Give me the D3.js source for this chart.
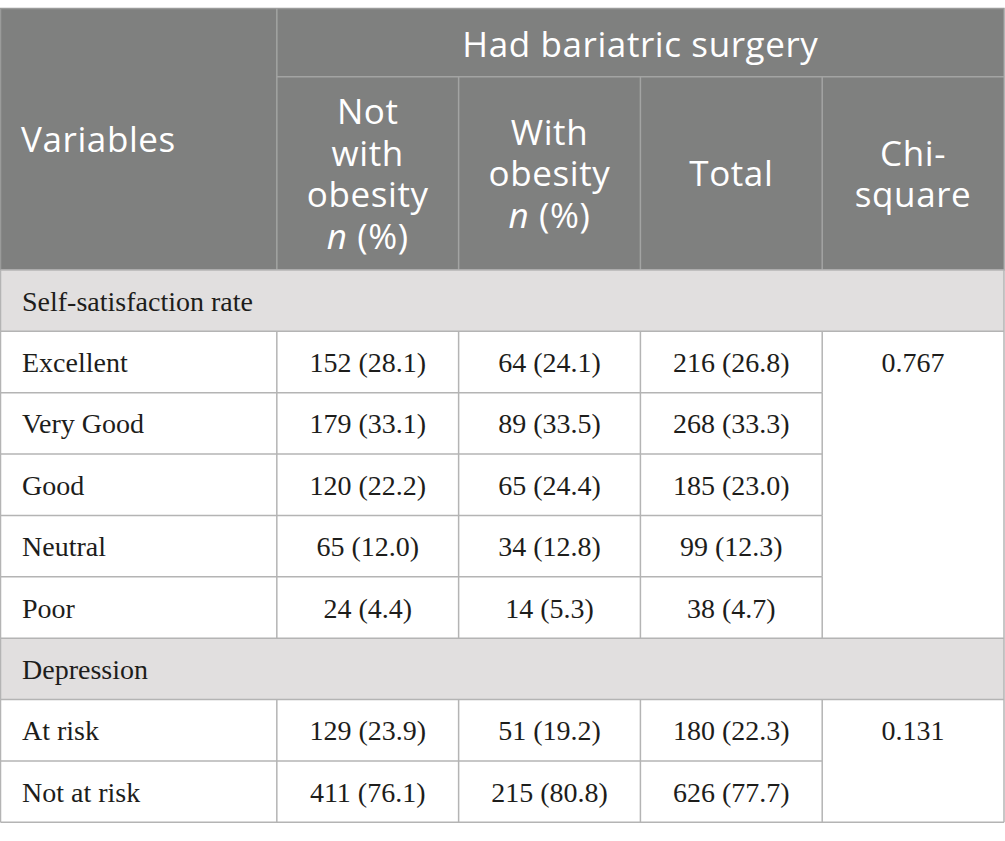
<!DOCTYPE html>
<html lang="en">
<head>
  <meta charset="UTF-8">
  <title>Had bariatric surgery table</title>
  <script src="https://d3js.org/d3.v7.min.js"></script>
  <style>
    body {
      margin: 0;
      padding: 0;
      background: white;
    }
    .head text {
      font-family: "Open Sans", sans-serif;
      font-size: 35px;
      letter-spacing: 0.6px;
      fill: white;
    }
    .body text {
      font-family: "Liberation Serif", "Times New Roman", serif;
      font-size: 28px;
      fill: #1d1d1b;
    }
  </style>
</head>
<body>
  <script>
    // Table data
    const groupTitle = "Had bariatric surgery";
    const firstHeader = "Variables";
    const columnHeaders = [
      ["Not", "with", "obesity", "n (%)"],
      ["With", "obesity", "n (%)"],
      ["Total"],
      ["Chi-", "square"]
    ];

    const satTitle = "Self-satisfaction rate";
    const satLevels = ["Excellent", "Very Good", "Good", "Neutral", "Poor"];
    const satNotObeseN = [152, 179, 120, 65, 24];
    const satNotObesePct = [28.1, 33.1, 22.2, 12.0, 4.4];
    const satWithObeseN = [64, 89, 65, 34, 14];
    const satWithObesePct = [24.1, 33.5, 24.4, 12.8, 5.3];
    const satTotalN = [216, 268, 185, 99, 38];
    const satTotalPct = [26.8, 33.3, 23.0, 12.3, 4.7];
    const satChi = 0.767;

    const depTitle = "Depression";
    const depLevels = ["At risk", "Not at risk"];
    const depNotObeseN = [129, 411];
    const depNotObesePct = [23.9, 76.1];
    const depWithObeseN = [51, 215];
    const depWithObesePct = [19.2, 80.8];
    const depTotalN = [180, 626];
    const depTotalPct = [22.3, 77.7];
    const depChi = 0.131;

    const width = 1005;
    const height = 841;

    const pct = d3.format(".1f");
    const cell = (n, p) => `${n} (${pct(p)})`;

    // Build body rows: section rows and data rows
    const sections = [
      { title: satTitle, levels: satLevels, a: [satNotObeseN, satNotObesePct], b: [satWithObeseN, satWithObesePct], t: [satTotalN, satTotalPct], chi: satChi },
      { title: depTitle, levels: depLevels, a: [depNotObeseN, depNotObesePct], b: [depWithObeseN, depWithObesePct], t: [depTotalN, depTotalPct], chi: depChi }
    ];
    const rows = [];
    sections.forEach(s => {
      rows.push({ type: "section", label: s.title });
      s.levels.forEach((lv, i) => {
        rows.push({
          type: "data", label: lv, first: i === 0,
          values: [cell(s.a[0][i], s.a[1][i]), cell(s.b[0][i], s.b[1][i]), cell(s.t[0][i], s.t[1][i])],
          chi: i === 0 ? s.chi.toFixed(3) : null
        });
      });
    });

    // Column scale (first column is wider)
    const colUnits = [1.52, 1, 1, 1, 1];
    const colEdges = d3.cumsum([0, ...colUnits]);
    const x = d3.scaleLinear().domain([0, colEdges[colEdges.length - 1]]).range([0.5, 1004]);
    const colX = i => x(colEdges[i]);
    const colMid = i => (colX(i) + colX(i + 1)) / 2;

    const tableTop = 8.5, headSplit = 76.7, headBottom = 270;
    const tableBottom = 822.3;
    const y = d3.scaleBand().domain(d3.range(rows.length)).range([headBottom, tableBottom]);

    const svg = d3.select("body").append("svg")
      .attr("width", width)
      .attr("height", height);

    svg.append("rect").attr("width", width).attr("height", height).attr("fill", "white");

    // Header
    const head = svg.append("g").attr("class", "head");
    head.append("rect")
      .attr("x", colX(0)).attr("y", tableTop)
      .attr("width", colX(5) - colX(0)).attr("height", headBottom - tableTop)
      .attr("fill", "#7f807f")
      .attr("stroke", "#9a9b9a").attr("stroke-width", 1.5);

    const headLine = "#a3a4a3";
    head.append("line")
      .attr("x1", colX(1)).attr("x2", colX(5))
      .attr("y1", headSplit).attr("y2", headSplit)
      .attr("stroke", headLine).attr("stroke-width", 1.5);
    d3.range(1, 5).forEach(i => {
      head.append("line")
        .attr("x1", colX(i)).attr("x2", colX(i))
        .attr("y1", i === 1 ? tableTop : headSplit).attr("y2", headBottom)
        .attr("stroke", headLine).attr("stroke-width", 1.5);
    });

    head.append("text")
      .attr("x", 21).attr("y", (tableTop + headBottom) / 2 + 13)
      .text(firstHeader);

    head.append("text")
      .attr("x", (colX(1) + colX(5)) / 2).attr("y", (tableTop + headSplit) / 2 + 14)
      .attr("text-anchor", "middle")
      .text(groupTitle);

    const lineH = 41.7;
    columnHeaders.forEach((lines, c) => {
      const cy = (headSplit + headBottom) / 2;
      lines.forEach((ln, i) => {
        const t = head.append("text")
          .attr("x", colMid(c + 1))
          .attr("y", cy + (i - (lines.length - 1) / 2) * lineH + 13)
          .attr("text-anchor", "middle");
        if (ln.startsWith("n ")) {
          t.append("tspan").attr("font-style", "italic").text("n");
          t.append("tspan").text(ln.slice(1));
        } else {
          t.text(ln);
        }
      });
    });

    // Body
    const body = svg.append("g").attr("class", "body");
    const border = "#b4b4b4";

    rows.forEach((r, i) => {
      if (r.type === "section") {
        body.append("rect")
          .attr("x", colX(0)).attr("y", y(i))
          .attr("width", colX(5) - colX(0)).attr("height", y.bandwidth())
          .attr("fill", "#e1dfdf");
      }
    });

    // horizontal lines
    rows.forEach((r, i) => {
      body.append("line")
        .attr("x1", colX(0)).attr("x2", r.type === "data" && !r.first ? colX(4) : colX(5))
        .attr("y1", y(i)).attr("y2", y(i))
        .attr("stroke", border).attr("stroke-width", 1.5);
    });
    body.append("line")
      .attr("x1", colX(0)).attr("x2", colX(5))
      .attr("y1", tableBottom).attr("y2", tableBottom)
      .attr("stroke", border).attr("stroke-width", 1.5);

    // vertical lines in data rows
    rows.forEach((r, i) => {
      if (r.type !== "data") return;
      d3.range(1, 5).forEach(c => {
        body.append("line")
          .attr("x1", colX(c)).attr("x2", colX(c))
          .attr("y1", y(i)).attr("y2", y(i) + y.bandwidth())
          .attr("stroke", border).attr("stroke-width", 1.5);
      });
    });

    // outer left/right border
    [colX(0), colX(5)].forEach(xx => {
      body.append("line")
        .attr("x1", xx).attr("x2", xx)
        .attr("y1", headBottom).attr("y2", tableBottom)
        .attr("stroke", border).attr("stroke-width", 1.5);
    });

    // texts
    rows.forEach((r, i) => {
      const cy = y(i) + y.bandwidth() / 2 + 10;
      body.append("text").attr("x", 22).attr("y", cy).text(r.label);
      if (r.type !== "data") return;
      r.values.forEach((v, c) => {
        body.append("text")
          .attr("x", colMid(c + 1)).attr("y", cy)
          .attr("text-anchor", "middle")
          .text(v);
      });
      if (r.chi) {
        body.append("text")
          .attr("x", colMid(4)).attr("y", cy)
          .attr("text-anchor", "middle")
          .text(r.chi);
      }
    });
  </script>
</body>
</html>
